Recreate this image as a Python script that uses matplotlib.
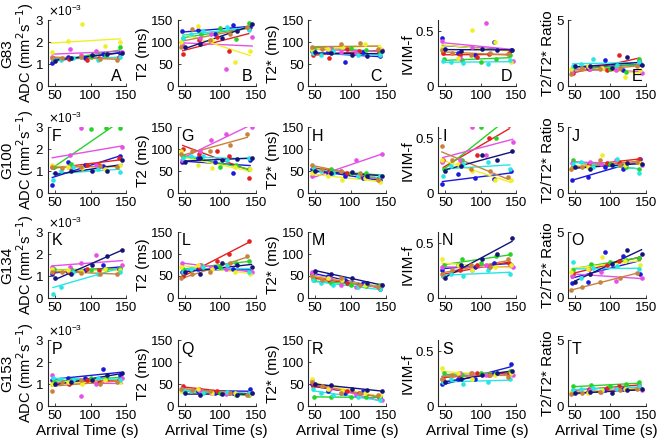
# -*- coding: utf-8 -*-
"""Parameter vs arrival time, per subject, with linear fits."""
import numpy
import matplotlib
matplotlib.use('Agg')
# pylint: disable=wrong-import-position
import matplotlib.pyplot
import matplotlib.ticker

matplotlib.pyplot.rcParams['font.family'] = ['Liberation Sans', 'DejaVu Sans']

# subjects (colour of points and fitted line)
colors = ['#1a1adc', '#e62020', '#28d228', '#e650e6',
          '#f0f028', '#28e6e6', '#c8823c', '#14147a']

# arrival time (s) of each subject's acquisitions
times = [
    [46, 68, 92, 118, 142],
    [47, 70, 95, 112, 140],
    [48, 73, 100, 122, 141],
    [46, 71, 87, 108, 145],
    [45, 68, 88, 120, 142],
    [47, 58, 75, 110, 141],
    [45, 60, 86, 113, 138],
    [50, 72, 102, 123, 144],
]

rows = ['G83', 'G100', 'G134', 'G153']
letters = ['ABCDE', 'FGHIJ', 'KLMNO', 'PQRST']
ylabels = ['ADC (mm$^2$s$^{-1}$)', 'T2 (ms)', 'T2* (ms)', 'IVIM-f',
           'T2/T2* Ratio']
ylims = [(0, 3e-3), (0, 150), (0, 150), (0, 0.6), (0, 5)]
yticks = [[0, 1e-3, 2e-3, 3e-3], [0, 50, 100, 150], [0, 50, 100, 150],
          [0, 0.5], [0, 5]]

# ADC values in units of 1e-3 mm^2/s
adc = {
    'G83': [[1.05, 1.35, 1.3, 1.45, 1.5], [1.3, 1.25, 1.2, 1.3, 1.35],
            [1.2, 1.3, 1.35, 1.4, 1.8], [1.35, 1.7, 1.4, 1.6, 1.55],
            [1.55, 2.05, 2.85, 1.85, 2.0], [1.25, 1.2, 1.3, 1.2, 1.35],
            [1.3, 1.3, 1.35, 1.25, 1.2], [1.15, 1.3, 1.4, 1.45, 1.5]],
    'G100': [[0.35, 1.4, 1.3, 1.25, 1.7], [1.2, 1.2, 1.3, 1.3, 1.6],
             [1.2, 1.35, 2.9, 2.95, 2.95], [1.2, 1.75, 2.95, 1.3, 2.1],
             [1.3, 1.2, 1.15, 1.1, 1.3], [0.6, 1.0, 1.2, 1.1, 0.95],
             [1.2, 1.15, 1.2, 1.25, 1.2], [0.9, 1.0, 1.0, 1.0, 1.5]],
    'G134': [[1.1, 1.2, 1.25, 1.5, 1.3], [1.2, 1.2, 1.3, 1.25, 1.3],
             [1.3, 1.3, 1.25, 1.3, 1.35], [1.4, 1.4, 1.6, 1.95, 1.5],
             [1.3, 1.25, 1.2, 1.3, 1.25], [0.2, 0.5, 1.2, 1.1, 1.2],
             [1.2, 1.2, 1.15, 1.1, 1.1], [0.9, 1.1, 1.5, 1.9, 2.2]],
    'G153': [[1.2, 1.3, 1.3, 1.7, 1.4], [1.1, 1.0, 1.2, 1.1, 1.2],
             [1.1, 1.2, 1.3, 1.3, 1.25], [1.4, 1.1, 0.45, 1.0, 1.3],
             [1.0, 1.1, 1.0, 1.2, 1.1], [1.3, 1.25, 1.2, 1.3, 1.2],
             [0.7, 1.1, 1.2, 1.0, 1.1], [1.0, 1.1, 1.2, 1.4, 1.5]],
}

t2 = {
    'G83': [[125, 128, 120, 140, 135], [73, 105, 112, 80, 130],
            [110, 118, 132, 108, 145], [95, 110, 120, 40, 112],
            [100, 138, 105, 55, 80], [110, 120, 125, 135, 128],
            [90, 130, 105, 120, 135], [90, 95, 110, 125, 142]],
    'G100': [[70, 80, 70, 45, 75], [100, 90, 95, 85, 35],
             [85, 80, 60, 65, 55], [75, 95, 120, 135, 150],
             [95, 65, 58, 60, 55], [80, 85, 85, 75, 80],
             [90, 95, 95, 110, 135], [70, 80, 75, 78, 80]],
    'G134': [[60, 65, 70, 65, 60], [50, 70, 85, 100, 130],
             [65, 75, 70, 80, 85], [80, 75, 70, 65, 60],
             [70, 75, 65, 60, 55], [60, 65, 70, 75, 60],
             [45, 55, 60, 80, 95], [60, 55, 80, 75, 70]],
    'G153': [[40, 35, 30, 30, 40], [45, 40, 35, 30, 30],
             [35, 30, 30, 25, 25], [40, 35, 30, 28, 30],
             [35, 40, 30, 30, 28], [38, 35, 30, 32, 30],
             [40, 38, 35, 30, 25], [30, 25, 28, 25, 30]],
}

t2star = {
    'G83': [[80, 78, 55, 78, 68], [72, 65, 85, 80, 78],
            [85, 88, 88, 82, 75], [85, 88, 78, 75, 82],
            [82, 85, 90, 95, 88], [75, 72, 80, 70, 70],
            [90, 85, 95, 98, 85], [78, 75, 72, 68, 80]],
    'G100': [[55, 45, 40, 35, 30], [60, 50, 45, 40, 35],
             [50, 55, 45, 45, 40], [40, 45, 50, 75, 90],
             [45, 40, 30, 35, 25], [60, 50, 45, 40, 38],
             [65, 55, 50, 45, 30], [50, 45, 48, 40, 40]],
    'G134': [[55, 50, 40, 35, 20], [45, 40, 35, 30, 25],
             [40, 35, 30, 28, 30], [60, 45, 30, 25, 30],
             [50, 45, 40, 30, 25], [40, 35, 30, 25, 20],
             [50, 40, 45, 30, 25], [62, 55, 45, 35, 30]],
    'G153': [[50, 35, 30, 35, 20], [45, 40, 35, 30, 20],
             [22, 20, 20, 20, 20], [60, 40, 30, 25, 15],
             [62, 40, 35, 30, 25], [40, 30, 25, 20, 15],
             [55, 45, 30, 30, 25], [50, 48, 40, 38, 35]],
}

ivim_f = {
    'G83': [[0.44, 0.3, 0.28, 0.4, 0.33], [0.3, 0.28, 0.27, 0.29, 0.3],
            [0.25, 0.24, 0.22, 0.25, 0.28], [0.41, 0.26, 0.36, 0.58, 0.23],
            [0.35, 0.26, 0.51, 0.4, 0.22], [0.23, 0.22, 0.21, 0.2, 0.24],
            [0.33, 0.3, 0.28, 0.3, 0.29], [0.34, 0.32, 0.34, 0.33, 0.33]],
    'G100': [[0.08, 0.17, 0.14, 0.13, 0.2], [0.3, 0.27, 0.35, 0.5, 0.62],
             [0.22, 0.3, 0.6, 0.5, 0.72], [0.28, 0.3, 0.6, 0.35, 0.47],
             [0.3, 0.27, 0.2, 0.12, 0.12], [0.16, 0.25, 0.27, 0.28, 0.22],
             [0.43, 0.3, 0.22, 0.2, 0.15], [0.2, 0.25, 0.35, 0.3, 0.38]],
    'G134': [[0.25, 0.3, 0.28, 0.32, 0.3], [0.2, 0.25, 0.3, 0.28, 0.32],
             [0.3, 0.35, 0.32, 0.38, 0.4], [0.28, 0.3, 0.25, 0.3, 0.28],
             [0.35, 0.3, 0.25, 0.28, 0.3], [0.2, 0.22, 0.2, 0.25, 0.22],
             [0.22, 0.25, 0.3, 0.28, 0.35], [0.18, 0.3, 0.35, 0.4, 0.55]],
    'G153': [[0.2, 0.25, 0.25, 0.3, 0.38], [0.25, 0.28, 0.3, 0.28, 0.3],
             [0.3, 0.28, 0.3, 0.3, 0.32], [0.25, 0.3, 0.3, 0.28, 0.28],
             [0.35, 0.3, 0.25, 0.28, 0.3], [0.22, 0.25, 0.2, 0.22, 0.25],
             [0.25, 0.28, 0.3, 0.28, 0.27], [0.22, 0.25, 0.28, 0.3, 0.32]],
}

ratio = {
    'G83': [[1.2, 1.4, 2.0, 1.2, 1.7], [1.0, 1.3, 1.2, 2.4, 1.9],
            [1.4, 1.4, 1.3, 1.1, 2.1], [1.1, 1.3, 1.4, 1.2, 1.0],
            [1.3, 1.5, 1.4, 0.7, 1.2], [1.5, 1.7, 2.1, 1.6, 1.8],
            [0.9, 1.4, 1.3, 1.4, 1.5], [1.5, 1.5, 1.4, 2.2, 1.6]],
    'G100': [[1.0, 1.2, 2.0, 1.8, 2.6], [2.0, 2.2, 2.3, 2.4, 2.6],
             [2.5, 2.0, 2.2, 2.0, 1.8], [2.3, 2.4, 2.2, 2.5, 2.1],
             [1.8, 2.0, 2.9, 2.1, 2.3], [2.2, 2.4, 2.0, 2.6, 1.5],
             [1.8, 2.0, 2.5, 2.1, 2.4], [2.0, 1.8, 2.1, 2.3, 2.2]],
    'G134': [[1.1, 1.2, 3.5, 3.2, 1.8], [1.8, 2.2, 2.5, 2.8, 3.0],
             [2.1, 2.6, 2.7, 2.9, 3.0], [1.7, 1.8, 2.0, 1.3, 1.5],
             [2.0, 2.2, 3.1, 2.8, 2.5], [2.7, 1.5, 2.3, 2.4, 2.2],
             [0.6, 0.8, 1.2, 1.5, 1.9], [1.2, 1.8, 2.6, 3.6, 3.3]],
    'G153': [[1.0, 1.1, 1.2, 1.3, 1.4], [1.2, 1.3, 1.4, 1.5, 1.6],
             [1.5, 1.6, 1.5, 1.7, 1.8], [1.0, 1.2, 1.1, 1.3, 1.2],
             [1.1, 1.0, 1.2, 1.3, 1.4], [1.2, 1.3, 1.4, 1.3, 1.5],
             [0.9, 1.0, 1.1, 1.2, 1.3], [1.0, 1.1, 1.0, 1.2, 1.3]],
}

params = [adc, t2, t2star, ivim_f, ratio]
scales = [1e-3, 1, 1, 1, 1]


def main():
    """main."""
    fig = matplotlib.pyplot.figure(figsize=(6.61, 4.42), dpi=100)
    lefts = [0.0726, 0.269, 0.466, 0.663, 0.859]
    bottoms = [0.805, 0.563, 0.326, 0.081]
    width, height = 0.118, 0.149
    axis_col = '#262626'

    for i, row in enumerate(rows):
        for j, param in enumerate(params):
            ax = fig.add_axes([lefts[j], bottoms[i], width, height])
            for k, col in enumerate(colors):
                x = numpy.array(times[k], dtype=float)
                y = numpy.array(param[row][k]) * scales[j]
                coef = numpy.polyfit(x, y, 1)
                xf = numpy.array([x.min(), x.max()])
                ax.plot(xf, numpy.polyval(coef, xf), color=col, lw=1.0,
                        zorder=2)
                ax.scatter(x, y, s=11, color=col, linewidths=0, zorder=3)
            ax.set_xlim(40, 150)
            ax.set_ylim(*ylims[j])
            ax.set_xticks([50, 100, 150])
            ax.set_yticks(yticks[j])
            if j == 0:
                fmt = matplotlib.ticker.ScalarFormatter(useMathText=True)
                fmt.set_powerlimits((-3, -3))
                ax.yaxis.set_major_formatter(fmt)
                ax.yaxis.get_offset_text().set_fontsize(8.5)
                ax.set_ylabel(ylabels[j], fontsize=10.5)
                ax.yaxis.set_label_coords(-0.16, 0.5)
                fig.text(0.011, bottoms[i] + height / 2, row, fontsize=11,
                         rotation=90, ha='center', va='center')
            else:
                ax.set_ylabel(ylabels[j], fontsize=11, labelpad=1)
            if j == 3:
                ax.yaxis.set_major_formatter(
                    matplotlib.ticker.FormatStrFormatter('%g'))
            if i == 3:
                ax.set_xlabel('Arrival Time (s)', fontsize=11, labelpad=1)
            for side in ['top', 'right']:
                ax.spines[side].set_visible(False)
            for side in ['left', 'bottom']:
                ax.spines[side].set_color(axis_col)
                ax.spines[side].set_linewidth(0.8)
            ax.tick_params(direction='in', length=2, width=0.6,
                           labelsize=9.5, colors=axis_col,
                           labelcolor='black', pad=3)
            if i == 0:
                ax.text(0.95, 0.04, letters[i][j], transform=ax.transAxes,
                        fontsize=11.5, ha='right', va='bottom')
            else:
                ax.text(0.05, 0.98, letters[i][j], transform=ax.transAxes,
                        fontsize=11.5, ha='left', va='top')

    fig.savefig('out.png', dpi=100)


if __name__ == '__main__':
    main()

# EOF
